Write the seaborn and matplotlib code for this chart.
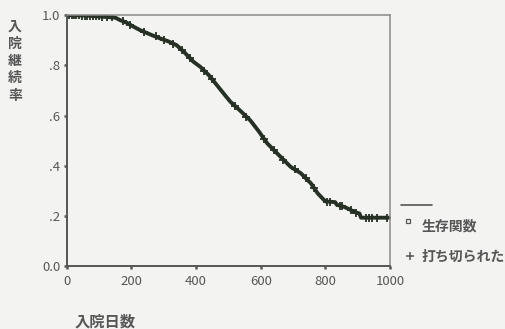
import matplotlib
matplotlib.use("Agg")
import matplotlib.pyplot as plt
from matplotlib.lines import Line2D
import seaborn as sns
import pandas as pd

# Kaplan-Meier style curve
days = [0, 60, 120, 150, 165, 185, 205, 227, 260, 289, 315, 340, 365, 392, 413,
        440, 465, 490, 506, 540, 568, 595, 620, 650, 692, 724, 755, 776, 796,
        800, 830, 835, 858, 875, 889, 905, 910, 1000]
surv = [1.0, 0.998, 0.993, 0.99, 0.98, 0.97, 0.955, 0.94, 0.922, 0.907, 0.895,
        0.88, 0.85, 0.814, 0.794, 0.76, 0.72, 0.68, 0.655, 0.615, 0.58, 0.535,
        0.489, 0.45, 0.396, 0.37, 0.33, 0.29, 0.263, 0.258, 0.255, 0.245, 0.236,
        0.226, 0.216, 0.21, 0.193, 0.193]

# censored cases (+ marks)
censor_days = [8, 15, 22, 30, 38, 46, 55, 64, 72, 80, 90, 100, 110, 125, 140,
               175, 195, 240, 275, 300, 330, 355, 380, 425, 450, 520, 555, 610,
               640, 670, 705, 740, 765, 805, 815, 845, 852, 880, 895, 925, 935,
               945, 960, 990]
censor_surv = [1.0, 1.0, 0.999, 0.999, 0.999, 0.998, 0.998, 0.998, 0.997, 0.997,
               0.996, 0.995, 0.994, 0.993, 0.991, 0.975, 0.962, 0.933, 0.915,
               0.902, 0.886, 0.862, 0.83, 0.779, 0.745, 0.638, 0.596, 0.506,
               0.463, 0.424, 0.387, 0.35, 0.31, 0.257, 0.256, 0.24, 0.238, 0.222,
               0.213, 0.193, 0.193, 0.193, 0.193, 0.193]

x_ticks = [0, 200, 400, 600, 800, 1000]
y_ticks = [0.0, 0.2, 0.4, 0.6, 0.8, 1.0]
y_tick_labels = ["0.0", ".2", ".4", ".6", ".8", "1.0"]

sns.set_style("ticks")
plt.rcParams['font.family'] = ['Noto Sans CJK JP', 'DejaVu Sans']

bg = '#f3f4f2'
ink = '#263024'
grey = '#565656'

curve = pd.DataFrame({'day': days, 'surv': surv})
cens = pd.DataFrame({'day': censor_days, 'surv': censor_surv})

fig = plt.figure(figsize=(5.06, 3.29), dpi=100, facecolor=bg)
ax = fig.add_axes([0.132, 0.191, 0.639, 0.763])
ax.set_facecolor(bg)

sns.lineplot(data=curve, x='day', y='surv', ax=ax, color=ink, linewidth=2.8,
             estimator=None, sort=False)
ax.plot(cens['day'], cens['surv'], linestyle='none', marker='+', markersize=5.5,
        markeredgewidth=1.3, color=ink)

ax.set_xlim(0, 1000)
ax.set_ylim(0, 1.0)
ax.set_xticks(x_ticks)
ax.set_yticks(y_ticks)
ax.set_yticklabels(y_tick_labels)
ax.set_xlabel('')
ax.set_ylabel('')
ax.tick_params(axis='both', length=2.5, width=1.8, colors=grey,
               labelsize=9.5, labelcolor=grey)
ax.tick_params(axis='y', pad=2)
ax.tick_params(axis='x', pad=4)

for side in ['left', 'bottom']:
    ax.spines[side].set_color('#555555')
    ax.spines[side].set_linewidth(1.4)
for side in ['top', 'right']:
    ax.spines[side].set_visible(True)
    ax.spines[side].set_color('#8a8a8a')
    ax.spines[side].set_linewidth(1.1)

# axis titles
fig.text(15 / 506, 1 - 61 / 329, '\n'.join('入院継続率'), ha='center', va='center',
         fontsize=10, color=grey, linespacing=1.3, fontweight='bold')
fig.text(105 / 506, 1 - 322 / 329, '入院日数', ha='center', va='center',
         fontsize=11, color=grey, fontweight='bold')

# legend at the right, close to the page edge
fig.add_artist(Line2D([401 / 506, 432 / 506], [1 - 205 / 329, 1 - 205 / 329],
                      transform=fig.transFigure, color=grey, linewidth=1.2))
fig.add_artist(Line2D([408 / 506], [1 - 221 / 329], transform=fig.transFigure,
                      marker='s', markersize=3.2, markerfacecolor='none',
                      markeredgecolor=grey, markeredgewidth=0.9, linestyle='none'))
fig.text(422 / 506, 1 - 227 / 329, '生存関数', ha='left', va='center',
         fontsize=10, color=grey, fontweight='bold')
fig.add_artist(Line2D([410 / 506], [1 - 256 / 329], transform=fig.transFigure,
                      marker='+', markersize=5.5, markeredgewidth=1.1,
                      color=grey, linestyle='none'))
fig.text(422 / 506, 1 - 257 / 329, '打ち切られた', ha='left', va='center',
         fontsize=10, color=grey, fontweight='bold')

fig.savefig('out.png', dpi=100, facecolor=bg)
